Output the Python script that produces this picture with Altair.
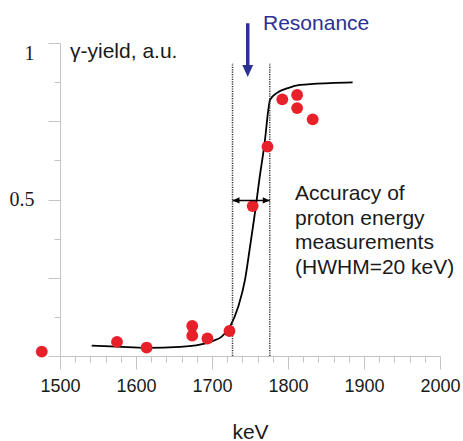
import altair as alt
import pandas as pd

# ---- data ----
pt_kev = [1476, 1575, 1614, 1674, 1674, 1694, 1723, 1753.5, 1773, 1792.5, 1812, 1812, 1832.5]
pt_yield = [0.014, 0.045, 0.027, 0.096, 0.065, 0.056, 0.080, 0.479, 0.669, 0.820, 0.834, 0.792, 0.756]

fit_kev = [1541.7, 1575, 1614, 1658, 1684, 1700, 1712.8, 1723.7, 1734.6, 1743.4, 1750,
           1757.9, 1762.2, 1769.7, 1774.1, 1776.3, 1785.1, 1800, 1815.8, 1855.3, 1885]
fit_yield = [0.033, 0.030, 0.026, 0.029, 0.036, 0.047, 0.062, 0.094, 0.158, 0.243, 0.349,
             0.482, 0.562, 0.690, 0.786, 0.818, 0.840, 0.856, 0.866, 0.872, 0.874]

hwhm_bounds = [1727, 1776]
hwhm_top = 0.936
hwhm_arrow_y = 0.497
resonance_kev = 1747
x_ticks = list(range(1500, 2001, 20))
y_ticks = [0, 0.125, 0.25, 0.375, 0.5, 0.625, 0.75, 0.875, 1.0]

accuracy_lines = ["Accuracy of", "proton energy", "\u00a0measurements", "(HWHM=20 keV)"]

FONT = "Liberation Sans"
RED = "#e8202a"
NAVY = "#2a3190"

xs = alt.Scale(domain=[1500, 2000], nice=False, zero=False)
ys = alt.Scale(domain=[0, 1], nice=False, zero=False)

x_axis = alt.Axis(
    values=x_ticks,
    tickSize={"condition": {"test": "datum.value % 100 === 0", "value": 13}, "value": 6},
    labelExpr="datum.value % 100 === 0 ? '' + datum.value : ''",
    labelFont=FONT, labelFontSize=18, labelColor="#1a1a1a", labelPadding=8,
    labelFlush=False, labelOverlap=False,
    domainColor="#c4c4c4", tickColor="#c4c4c4", grid=False,
    title="keV", titleFont=FONT, titleFontSize=21, titleFontWeight="normal",
    titleColor="#1a1a1a", titlePadding=26,
)
y_axis = alt.Axis(
    values=y_ticks,
    tickSize={"condition": {"test": "datum.value % 0.25 === 0", "value": 12}, "value": 6},
    labelExpr="datum.value === 1 ? '1' : (datum.value === 0.5 ? '0.5' : '')",
    labelFont="Liberation Serif", labelFontSize=20, labelColor="#1a1a1a", labelPadding=14,
    labelFlush=True, labelOverlap=False,
    domainColor="#c4c4c4", tickColor="#c4c4c4", grid=False, title=None,
)


def X(field):
    return alt.X(field, scale=xs, axis=x_axis)


def Y(field):
    return alt.Y(field, scale=ys, axis=y_axis)


fit_df = pd.DataFrame({"kev": fit_kev, "yield": fit_yield})
pt_df = pd.DataFrame({"kev": pt_kev, "yield": pt_yield})
bounds_df = pd.DataFrame({"kev": hwhm_bounds, "y0": [0, 0], "y1": [hwhm_top, hwhm_top]})

curve = alt.Chart(fit_df).mark_line(color="black", strokeWidth=1.8, interpolate="monotone").encode(
    x=X("kev:Q"), y=Y("yield:Q"),
)

points = alt.Chart(pt_df).mark_circle(color=RED, size=140, opacity=1).encode(
    x=X("kev:Q"), y=Y("yield:Q"),
)

dotted = alt.Chart(bounds_df).mark_rule(color="#333333", strokeWidth=1.5, strokeDash=[1.2, 1.2]).encode(
    x=X("kev:Q"), y=Y("y0:Q"), y2="y1:Q",
)

harrow_df = pd.DataFrame({"x0": [hwhm_bounds[0]], "x1": [hwhm_bounds[1]], "y": [hwhm_arrow_y]})
harrow = alt.Chart(harrow_df).mark_rule(color="black", strokeWidth=1.5).encode(
    x=X("x0:Q"), x2="x1:Q", y=Y("y:Q"),
)
lhead = alt.Chart(pd.DataFrame({"x": [hwhm_bounds[0]], "y": [hwhm_arrow_y]})).mark_point(
    shape="M0,0 L2,-0.9 L2,0.9 Z", filled=True, size=49, color="black", opacity=1, strokeWidth=0
).encode(x=X("x:Q"), y=Y("y:Q"))
rhead = alt.Chart(pd.DataFrame({"x": [hwhm_bounds[1]], "y": [hwhm_arrow_y]})).mark_point(
    shape="M0,0 L-2,-0.9 L-2,0.9 Z", filled=True, size=49, color="black", opacity=1, strokeWidth=0
).encode(x=X("x:Q"), y=Y("y:Q"))

stem_df = pd.DataFrame({"x": [resonance_kev], "y0": [1.063], "y1": [0.925]})
stem = alt.Chart(stem_df).mark_rule(color=NAVY, strokeWidth=3.5).encode(
    x=X("x:Q"), y=Y("y0:Q"), y2="y1:Q",
)
vhead = alt.Chart(pd.DataFrame({"x": [resonance_kev], "y": [0.9105]})).mark_point(
    shape="M-0.9,-1 L0.9,-1 L0,1 Z", filled=True, size=144, color=NAVY, opacity=1, strokeWidth=0
).encode(x=X("x:Q"), y=Y("y:Q"))


def label(text, x, y, color="#1a1a1a", line_height=None):
    kw = dict(align="left", baseline="alphabetic", font=FONT, fontSize=21, color=color)
    if line_height is not None:
        kw["lineHeight"] = line_height
    return alt.Chart(pd.DataFrame({"x": [x], "y": [y]})).mark_text(text=text, **kw).encode(
        x=X("x:Q"), y=Y("y:Q"),
    )


ylabel = label("\u03b3-yield, a.u.", 1513.2, 0.951)
reson = label("Resonance", 1767.1, 1.0415, color=NAVY)
accuracy = label(accuracy_lines, 1809.2, 0.498, line_height=24.5)

chart = alt.layer(
    curve, dotted, points, harrow, lhead, rhead, stem, vhead, ylabel, reson, accuracy
).properties(
    width=380, height=313,
    autosize=alt.AutoSizeParams(type="none"),
    padding={"left": 60, "top": 43, "right": 23, "bottom": 85},
    background="white",
).configure_view(stroke=None)

chart.save("out.html", embed_options={"renderer": "svg", "actions": False})
